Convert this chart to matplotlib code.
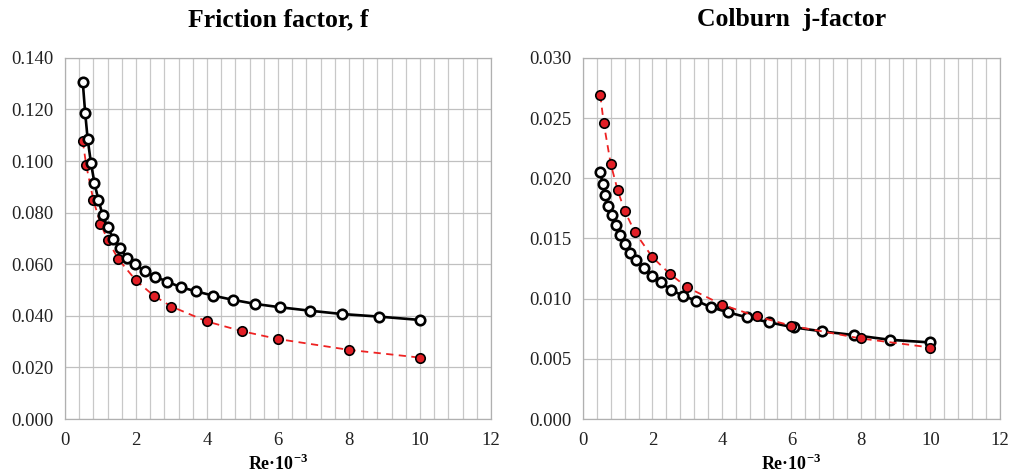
import numpy as np
import matplotlib
matplotlib.use('Agg')
import matplotlib.pyplot as plt
from matplotlib.ticker import MultipleLocator, FormatStrFormatter

# Re*10^-3 for the open-circle (black) series
re_open = [0.50, 0.57, 0.64, 0.73, 0.83, 0.94, 1.06, 1.20, 1.36, 1.54, 1.75,
           1.98, 2.24, 2.54, 2.87, 3.26, 3.69, 4.18, 4.73, 5.36, 6.07, 6.89,
           7.80, 8.84, 10.0]
f_open = [0.1308, 0.1185, 0.1084, 0.0994, 0.0915, 0.0850, 0.0791, 0.0744,
          0.0699, 0.0662, 0.0625, 0.0599, 0.0573, 0.0552, 0.0533, 0.0511,
          0.0495, 0.0478, 0.0462, 0.0446, 0.0433, 0.0420, 0.0407, 0.0397,
          0.0384]
j_open = [0.02053, 0.01950, 0.01858, 0.01767, 0.01692, 0.01608, 0.01525,
          0.01456, 0.01380, 0.01317, 0.01256, 0.01192, 0.01136, 0.01072,
          0.01025, 0.00983, 0.00928, 0.00886, 0.00844, 0.00803, 0.00761,
          0.00728, 0.00697, 0.00658, 0.00636]

# Re*10^-3 for the filled (red) series
re_fill = [0.5, 0.6, 0.8, 1.0, 1.2, 1.5, 2.0, 2.5, 3.0, 4.0, 5.0, 6.0, 8.0, 10.0]
f_fill = [0.1077, 0.0983, 0.0848, 0.0757, 0.0695, 0.0620, 0.0537, 0.0478,
          0.0436, 0.0378, 0.0340, 0.0310, 0.0268, 0.0238]
j_fill = [0.0269, 0.02456, 0.0212, 0.0190, 0.0173, 0.0155, 0.01344, 0.01206,
          0.01094, 0.0095, 0.00853, 0.00775, 0.00669, 0.00594]

titles = ['Friction factor, f', 'Colburn  j-factor']
y_max = [0.140, 0.030]
y_step = [0.020, 0.005]

plt.rcParams['font.family'] = ['Liberation Serif', 'DejaVu Serif']
plt.rcParams['mathtext.fontset'] = 'custom'
plt.rcParams['mathtext.rm'] = 'Liberation Serif'
plt.rcParams['mathtext.bf'] = 'Liberation Serif:bold'

fig = plt.figure(figsize=(10.12, 4.74), dpi=100)
ax_f = fig.add_axes([0.0642, 0.116, 0.421, 0.762])
ax_j = fig.add_axes([0.576, 0.116, 0.412, 0.762])

panels = [(ax_f, f_open, f_fill, True), (ax_j, j_open, j_fill, False)]
for i, (ax, y_open, y_fill, black_on_top) in enumerate(panels):
    z_black, z_red = (4, 3) if black_on_top else (3, 4)
    ax.plot(re_open, y_open, color='black', lw=1.9, marker='o', ms=6.8,
            mfc='white', mec='black', mew=1.9, zorder=z_black, clip_on=False)
    ax.plot(re_fill, y_fill, color='#ee2222', lw=1.3, ls=(0, (4, 3)),
            marker='o', ms=6.8, mfc='#e21f26', mec='black', mew=1.2,
            zorder=z_red, clip_on=False)

    ax.set_xlim(0, 12)
    ax.set_ylim(0, y_max[i])
    ax.xaxis.set_major_locator(MultipleLocator(2))
    ax.xaxis.set_minor_locator(MultipleLocator(0.4))
    ax.yaxis.set_major_locator(MultipleLocator(y_step[i]))
    ax.yaxis.set_major_formatter(FormatStrFormatter('%.3f'))
    ax.grid(True, which='major', axis='y', color='#c0c0c0', lw=0.9)
    ax.grid(True, which='both', axis='x', color='#c8c8c8', lw=0.9)
    ax.set_axisbelow(True)
    ax.tick_params(which='both', length=0, labelsize=13.5, colors='#222222')
    ax.tick_params(axis='x', pad=9)
    ax.tick_params(axis='y', pad=8)
    for sp in ax.spines.values():
        sp.set_color('#b0b0b0')
        sp.set_linewidth(0.9)

    ax.set_title(titles[i], fontsize=18.5, fontweight='bold', pad=23)
    ax.set_xlabel('Re\u00b710$^{\\mathbf{-3}}$', fontsize=13,
                  fontweight='bold', labelpad=4)

fig.savefig('out.png', dpi=100)
